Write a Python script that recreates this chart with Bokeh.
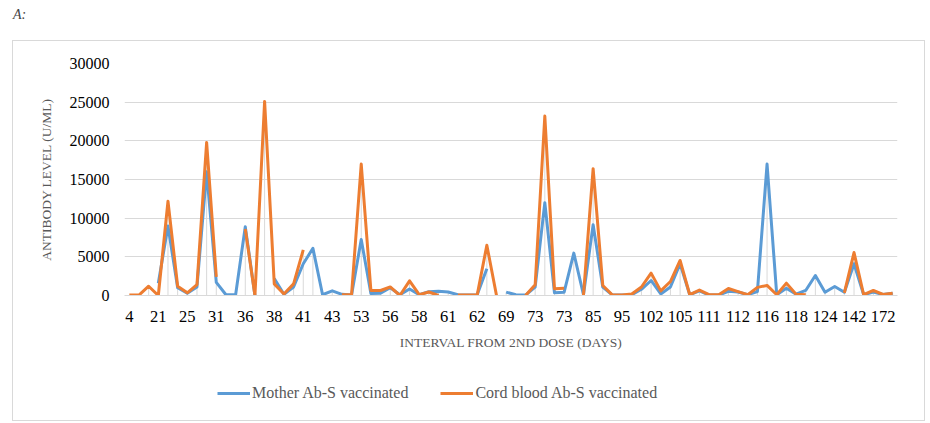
import numpy as np
from bokeh.plotting import figure
from bokeh.models import Range1d, FixedTicker, Legend, LegendItem, Div, ColumnDataSource
from bokeh.layouts import column
from bokeh.embed import file_html
from bokeh.resources import INLINE

# ---- data ----
tick_labels = ["4", "21", "25", "31", "36", "38", "41", "43", "53", "56", "58", "61", "62",
               "69", "73", "73", "85", "95", "102", "105", "111", "112", "116", "118",
               "124", "142", "172"]

mother = [None, None, None, 1600, 9000, 1000, 300, 1100, 16000, 1700,
          100, 100, 8900, 0, None, 2200, 150, 1100, 4100, 6100,
          100, 600, 150, 50, 7250, 250, 300, 1000, 100, 850,
          100, 500, 550, 450, 100, 50, 100, 3450, None, 430,
          100, 50, 1080, 12000, 350, 430, 5480, 100, 9150, 1080,
          50, 50, 100, 800, 1940, 200, 1100, 4100, 100, 600,
          50, 50, 550, 450, 100, 500, 17000, 100, 950, 170,
          650, 2590, 430, 1170, 430, 4100, 100, 450, 130, 300]

cord = [50, 50, 1200, 0, 12200, 1200, 350, 1400, 19800, 2400,
        None, None, 8600, 0, 25100, 1500, 200, 1500, 5900, None,
        None, None, 100, 100, 17000, 650, 650, 1100, 0, 1900,
        100, 450, 0, None, 50, 50, 50, 6500, 0, None,
        None, 0, 1380, 23200, 860, 950, None, 50, 16400, 1300,
        50, 50, 200, 1100, 2890, 600, 1810, 4530, 100, 700,
        100, 100, 900, 500, 100, 1050, 1300, 100, 1600, 170,
        100, None, None, None, 350, 5550, 100, 650, 130, 300]

series_names = ["Mother Ab-S vaccinated", "Cord blood Ab-S vaccinated"]
y_ticks = [0, 5000, 10000, 15000, 20000, 25000, 30000]
label_every = 3

# ---- build ----
m = np.array([np.nan if v is None else v for v in mother], dtype=float)
c = np.array([np.nan if v is None else v for v in cord], dtype=float)
n = len(m)
x = np.arange(n)
top = np.fmax(m, c)

src = ColumnDataSource(dict(x=x, m=m, c=c, top=np.nan_to_num(top)))

SERIF = "Liberation Serif"
BLUE = "#5B9BD5"
ORANGE = "#ED7D31"
W = 911

p = figure(width=W, height=319, output_backend="svg", toolbar_location=None,
           x_range=Range1d(-0.5, n - 0.5), y_range=Range1d(0, 30000),
           min_border_left=111, min_border_right=27, min_border_top=22,
           min_border_bottom=65)
p.outline_line_color = None

p.segment(x0="x", y0=0, x1="x", y1="top", source=src, line_color="#d9d9d9", line_width=1)
r_m = p.line("x", "m", source=src, line_color=BLUE, line_width=3, line_join="round")
r_c = p.line("x", "c", source=src, line_color=ORANGE, line_width=3, line_join="round")

# y axis
yax = p.yaxis[0]
yax.ticker = FixedTicker(ticks=y_ticks)
yax.axis_line_color = None
yax.major_tick_line_color = None
yax.minor_tick_line_color = None
yax.major_label_text_font = SERIF
yax.major_label_text_font_size = "16px"
yax.major_label_text_color = "#000000"
yax.major_label_standoff = 9
yax.axis_label = "ANTIBODY LEVEL (U/ML)"
yax.axis_label_text_font = SERIF
yax.axis_label_text_font_style = "normal"
yax.axis_label_text_font_size = "13.5px"
yax.axis_label_text_color = "#595959"
yax.axis_label_standoff = 13

# x axis
xt = list(range(0, n, label_every))[:len(tick_labels)]
xax = p.xaxis[0]
xax.ticker = FixedTicker(ticks=xt)
xax.major_label_overrides = {t: lbl for t, lbl in zip(xt, tick_labels)}
xax.axis_line_color = "#d9d9d9"
xax.major_tick_line_color = None
xax.minor_tick_line_color = None
xax.major_label_text_font = SERIF
xax.major_label_text_font_size = "16.5px"
xax.major_label_text_color = "#000000"
xax.major_label_standoff = 9
xax.axis_label = "INTERVAL FROM 2ND DOSE (DAYS)"
xax.axis_label_text_font = SERIF
xax.axis_label_text_font_style = "normal"
xax.axis_label_text_font_size = "13.5px"
xax.axis_label_text_color = "#595959"
xax.axis_label_standoff = 10

p.xgrid.grid_line_color = None
p.ygrid.grid_line_color = "#d9d9d9"
p.ygrid.grid_line_width = 1

# legend strip (separate small figure, same series styling; sample lines lie off-range)
lf = figure(width=W, height=60, output_backend="svg", toolbar_location=None,
            x_range=Range1d(0, 1), y_range=Range1d(0, 1), min_border=0)
lf.axis.visible = False
lf.grid.grid_line_color = None
lf.outline_line_color = None
lm = lf.line(x=[-2, -1], y=[-2, -1], line_color=BLUE, line_width=3)
lc = lf.line(x=[-2, -1], y=[-2, -1], line_color=ORANGE, line_width=3)
legend = Legend(items=[LegendItem(label=series_names[0], renderers=[lm]),
                       LegendItem(label=series_names[1], renderers=[lc])],
                orientation="horizontal", location=(93, 17))
legend.border_line_color = None
legend.background_fill_alpha = 0
legend.label_text_font = SERIF
legend.label_text_font_size = "16px"
legend.label_text_color = "#595959"
legend.glyph_width = 33
legend.label_standoff = 2
legend.spacing = 32
legend.padding = 0
legend.margin = 0
lf.add_layout(legend)

title = Div(text="<i>A:</i>", width=100, height=30,
            styles={"font-family": SERIF, "font-size": "14px", "color": "#444444",
                    "padding-left": "8px"})

box = column(p, lf, styles={"border": "1px solid #d9d9d9"}, margin=(0, 0, 0, 12))
layout = column(title, box)
open("out.html", "w").write(file_html(layout, INLINE))
